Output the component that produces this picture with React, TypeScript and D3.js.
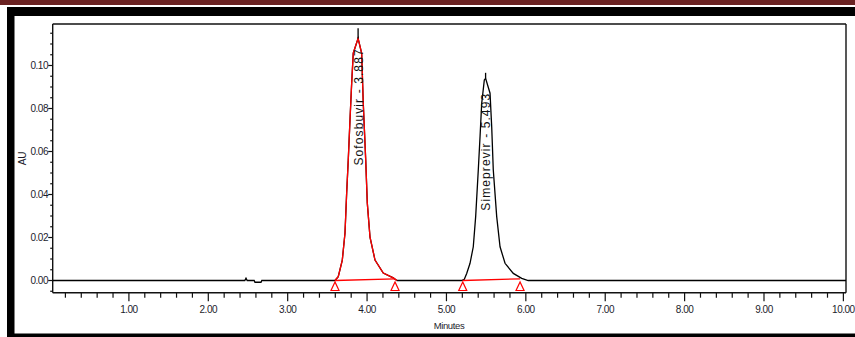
import React from "react";
import * as d3 from "d3";

// ---- data ----
const xTickLabels = ["1.00", "2.00", "3.00", "4.00", "5.00", "6.00", "7.00", "8.00", "9.00", "10.00"];
const yTickLabels = ["0.00", "0.02", "0.04", "0.06", "0.08", "0.10"];

// full chromatogram (minutes, AU)
const chromatogram: [number, number][] = [
  [0.04, 0], [2.46, 0], [2.475, 0.0011], [2.49, 0], [2.578, 0], [2.588, -0.0008], [2.664, -0.0008], [2.674, 0],
  [3.596, 0], [3.637, 0.0018], [3.688, 0.0095], [3.722, 0.0221], [3.743, 0.0407], [3.763, 0.056], [3.785, 0.0747],
  [3.806, 0.0917], [3.826, 0.1057], [3.887, 0.1126], [3.932, 0.1057], [3.952, 0.0826], [3.983, 0.056], [4.003, 0.036],
  [4.037, 0.0202], [4.1, 0.0095], [4.204, 0.0035], [4.33, 0.0012], [4.377, 0],
  [5.19, 0], [5.225, 0.0006], [5.255, 0.0033], [5.297, 0.008], [5.338, 0.0157], [5.368, 0.0297], [5.401, 0.0514],
  [5.423, 0.0669], [5.444, 0.0824], [5.477, 0.0933], [5.493, 0.094], [5.549, 0.0871], [5.57, 0.0715], [5.59, 0.0514],
  [5.633, 0.0297], [5.675, 0.0157], [5.738, 0.008], [5.842, 0.0033], [5.948, 0.001], [6.03, 0],
  [10.033, 0],
];

// first peak drawn in red
const redPeak: [number, number][] = [
  [3.596, 0], [3.637, 0.0018], [3.688, 0.0095], [3.722, 0.0221], [3.743, 0.0407], [3.763, 0.056], [3.785, 0.0747],
  [3.806, 0.0917], [3.826, 0.1057], [3.887, 0.1126], [3.932, 0.1057], [3.952, 0.0826], [3.983, 0.056], [4.003, 0.036],
  [4.037, 0.0202], [4.1, 0.0095], [4.204, 0.0035], [4.33, 0.0012], [4.377, 0],
];

const peakNames = ["Sofosbuvir - 3.887", "Simeprevir - 5.493"];
const peakTimes = [3.887, 5.493];
const peakApex = [0.1126, 0.094];
const peakTips = [0.1173, 0.0966];
const integStart = [3.596, 5.205];
const integEnd = [4.352, 5.927];
const integEndValue = [0.0008, 0.0008];

export default function App() {
  const W = 855, H = 337;
  const left = 52.7, right = 846, top = 24, bottom = 292.7;
  const x = d3.scaleLinear().domain([0.04, 10.033]).range([left, right]);
  const y = d3.scaleLinear().domain([-0.00567, 0.1193]).range([bottom, top]);

  const line = d3.line<[number, number]>().x(d => x(d[0])).y(d => y(d[1]));

  const minorX = d3.range(1, 51).map(i => i * 0.2).filter(v => Math.abs(v - Math.round(v)) > 1e-6);
  const minorY = d3.range(-1, 24).map(i => i * 0.005).filter(v => Math.abs(v / 0.02 - Math.round(v / 0.02)) > 1e-6);

  const font = "'Liberation Sans', Arial, sans-serif";
  const tickColor = "#1c1c2c";

  return (
    <svg width={W} height={H} style={{ position: "fixed", left: 0, top: 0, background: "#fff" }}>
      {/* outer decorations */}
      <rect x={0} y={0} width={W} height={5} fill="#6a2222" />
      <rect x={7} y={7} width={W - 7} height={9} fill="#000" />
      <rect x={7} y={7} width={7.5} height={H - 7} fill="#000" />
      <rect x={7} y={333.5} width={W - 7} height={3.5} fill="#000" />

      {/* plot frame */}
      <line x1={left} x2={right} y1={top} y2={top} stroke="#111" strokeWidth={1.4} />
      <line x1={right} x2={right} y1={top} y2={bottom} stroke="#111" strokeWidth={1.4} />
      <line x1={left} x2={left} y1={top} y2={bottom} stroke="#111" strokeWidth={1.4} />
      <line x1={left} x2={right} y1={bottom} y2={bottom} stroke="#111" strokeWidth={1.4} />

      {/* y ticks */}
      {minorY.map((v, i) => (
        <line key={"my" + i} x1={left - 2.5} x2={left} y1={y(v)} y2={y(v)} stroke="#111" strokeWidth={1.2} />
      ))}
      {yTickLabels.map((t, i) => (
        <g key={"y" + i}>
          <line x1={left - 4.5} x2={left} y1={y(+t)} y2={y(+t)} stroke="#111" strokeWidth={1.2} />
          <text x={48} y={y(+t) + 3.5} textAnchor="end" fontSize={10} fontFamily={font} letterSpacing={-0.5} fill={tickColor}>{t}</text>
        </g>
      ))}

      {/* x ticks */}
      {minorX.map((v, i) => (
        <line key={"mx" + i} x1={x(v)} x2={x(v)} y1={bottom} y2={bottom + 5} stroke="#111" strokeWidth={1.2} />
      ))}
      {xTickLabels.map((t, i) => (
        <g key={"x" + i}>
          <line x1={x(+t)} x2={x(+t)} y1={bottom} y2={bottom + 8.5} stroke="#111" strokeWidth={1.2} />
          <text x={x(+t)} y={312.5} textAnchor="middle" fontSize={10} fontFamily={font} letterSpacing={-0.5} fill={tickColor}>{t}</text>
        </g>
      ))}

      {/* axis titles */}
      <text x={449} y={329} textAnchor="middle" fontSize={9.5} fontFamily={font} letterSpacing={-0.4} fill={tickColor}>Minutes</text>
      <text transform={`translate(26,${(top + bottom) / 2}) rotate(-90)`} textAnchor="middle" fontSize={10} fontFamily={font} fill={tickColor}>AU</text>

      {/* traces */}
      <path d={line(chromatogram) || ""} fill="none" stroke="#000" strokeWidth={1.3} />
      <path d={line(redPeak) || ""} fill="none" stroke="#ff0000" strokeWidth={1.3} />
      {peakTimes.map((t, i) => (
        <line key={"tip" + i} x1={x(t)} x2={x(t)} y1={y(peakApex[i])} y2={y(peakTips[i])} stroke="#000" strokeWidth={1.3} />
      ))}

      {/* integration baselines and markers */}
      {integStart.map((s, i) => {
        const e = integEnd[i];
        const tri = (t: number, v: number) => {
          const cx = x(t), cy = y(v) + 1.5;
          return `M${cx},${cy}L${cx - 4},${cy + 8.5}L${cx + 4},${cy + 8.5}Z`;
        };
        return (
          <g key={"int" + i}>
            <line x1={x(s)} x2={x(e)} y1={y(0)} y2={y(integEndValue[i])} stroke="#ff0000" strokeWidth={1.3} />
            <path d={tri(s, 0)} fill="#fff" fillOpacity={0} stroke="#ff0000" strokeWidth={1.2} />
            <path d={tri(e, 0)} fill="#fff" fillOpacity={0} stroke="#ff0000" strokeWidth={1.2} />
          </g>
        );
      })}

      {/* peak labels */}
      {peakNames.map((n, i) => (
        <text key={"pl" + i}
          transform={`translate(${x(peakTimes[i]) + 4.5},${y(peakTips[i]) + 20}) rotate(-90)`}
          textAnchor="end" fontSize={12} fontFamily={font} letterSpacing={1.1} fill="#111">{n}</text>
      ))}
    </svg>
  );
}
